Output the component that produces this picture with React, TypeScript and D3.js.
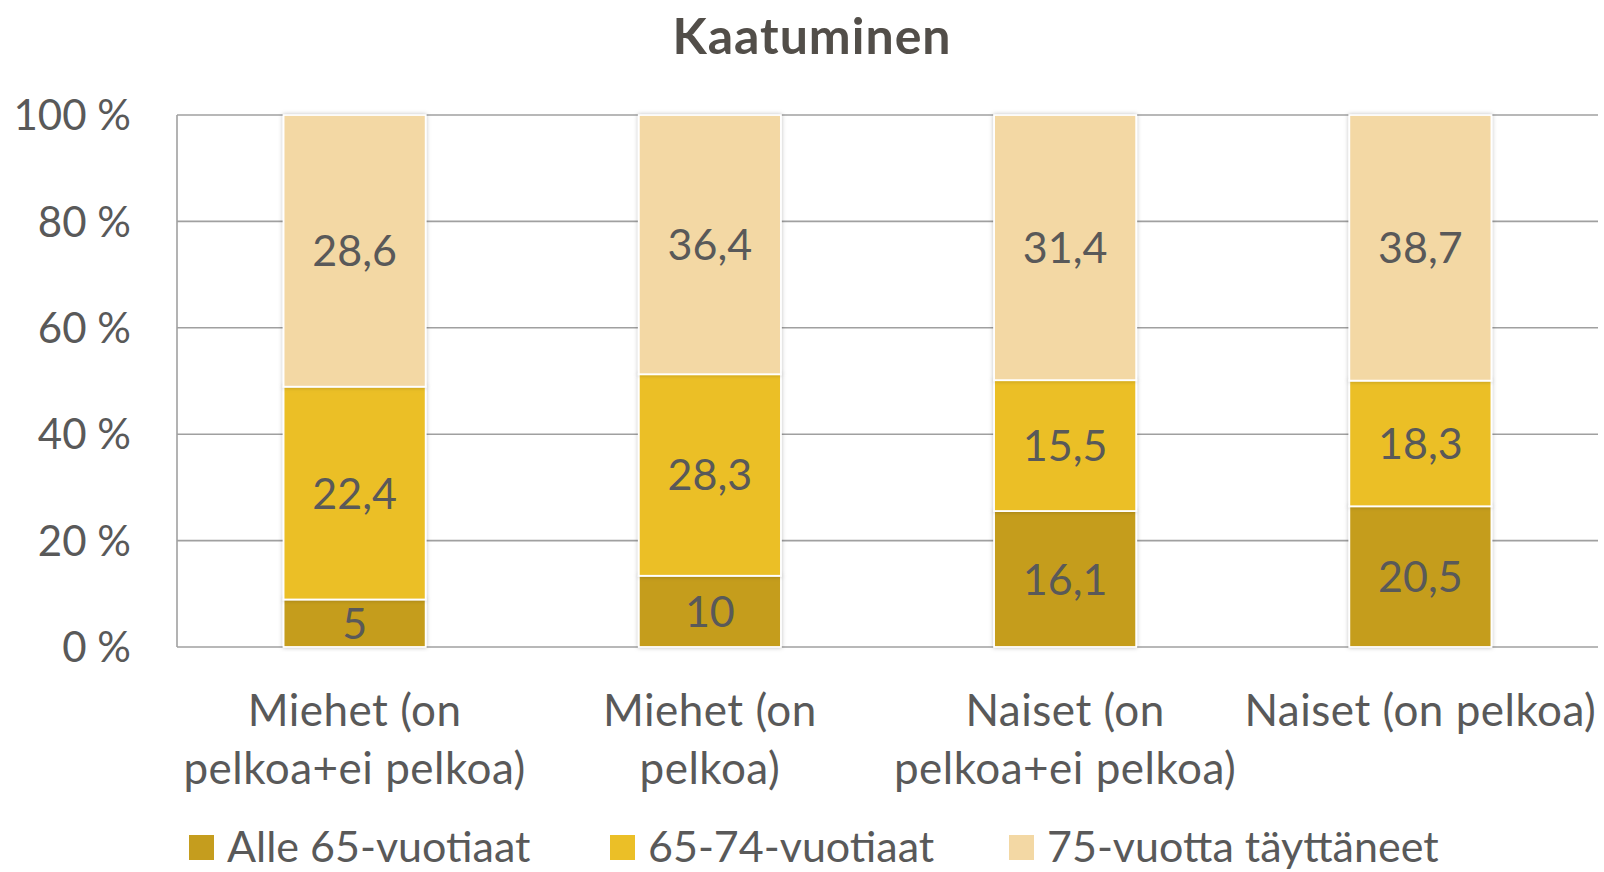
import React, { useEffect, useRef } from 'react';
import * as d3 from 'd3';

// Category labels (already split into lines as in the original)
const categories = ['Miehet (on pelkoa+ei pelkoa)', 'Miehet (on pelkoa)', 'Naiset (on pelkoa+ei pelkoa)', 'Naiset (on pelkoa)'];
const categoryLines = [['Miehet (on', 'pelkoa+ei pelkoa)'], ['Miehet (on', 'pelkoa)'], ['Naiset (on', 'pelkoa+ei pelkoa)'], ['Naiset (on pelkoa)']];
const seriesNames = ['Alle 65-vuotiaat', '65-74-vuotiaat', '75-vuotta täyttäneet'];
const alle65 = [5, 10, 16.1, 20.5];
const v65to74 = [22.4, 28.3, 15.5, 18.3];
const v75plus = [28.6, 36.4, 31.4, 38.7];
const yTicks = [0, 0.2, 0.4, 0.6, 0.8, 1];
const colors = ['#C59D1E', '#EBBF27', '#F3D8A4'];

const App: React.FC = () => {
  const ref = useRef<SVGSVGElement>(null);

  useEffect(() => {
    if (!ref.current) return;
    const svg = d3.select(ref.current);
    svg.selectAll('*').remove();
    const W = 1604, H = 872;
    const margin = { top: 115, right: 6, bottom: 225, left: 177 };
    const width = W - margin.left - margin.right;
    const height = H - margin.top - margin.bottom;
    const font = 'Lato, "Open Sans", sans-serif';
    const textColor = '#595959';

    // shadow for bars
    const defs = svg.append('defs');
    const f = defs.append('filter').attr('id', 'shadow').attr('x', '-10%').attr('y', '-10%').attr('width', '120%').attr('height', '120%');
    f.append('feDropShadow').attr('dx', 0).attr('dy', 0).attr('stdDeviation', 2).attr('flood-color', '#000').attr('flood-opacity', 0.25);

    // Title
    svg.append('text').attr('x', 812).attr('y', 54).attr('text-anchor', 'middle').style('font-family', font).style('font-size', '50px').style('letter-spacing', '1px').style('font-weight', 'bold').style('fill', '#524E49').text('Kaatuminen');

    const g = svg.append('g').attr('transform', `translate(${margin.left},${margin.top})`);
    const x = d3.scaleBand().domain(categories).range([0, width]).paddingInner(0.6).paddingOuter(0.3);
    const y = d3.scaleLinear().domain([0, 1]).range([height, 0]);

    // gridlines
    g.selectAll('.grid').data(yTicks).enter().append('line').attr('x1', 0).attr('x2', width).attr('y1', d => y(d)).attr('y2', d => y(d)).style('stroke', '#A0A0A0').style('stroke-width', 1.6);
    // left axis line
    g.append('line').attr('x1', 0).attr('x2', 0).attr('y1', 0).attr('y2', height).style('stroke', '#A0A0A0').style('stroke-width', 1.6);

    // y tick labels
    g.selectAll('.ytick').data(yTicks).enter().append('text').attr('x', -46).attr('y', d => y(d)).attr('dy', '0.36em').attr('text-anchor', 'end').style('font-family', font).style('font-size', '42px').style('fill', textColor).text(d => `${Math.round(d * 100)} %`);

    // stacked data normalized to 100 %
    const rows = categories.map((c, i) => ({ cat: c, a: alle65[i], b: v65to74[i], c: v75plus[i] }));
    const stack = d3.stack<any>().keys(['a', 'b', 'c']).offset(d3.stackOffsetExpand);
    const series = stack(rows);

    series.forEach((s, si) => {
      const layer = g.append('g');
      layer.selectAll('rect').data(s).enter().append('rect').attr('x', d => x(d.data.cat) || 0).attr('width', x.bandwidth()).attr('y', d => y(d[1])).attr('height', d => y(d[0]) - y(d[1])).attr('fill', colors[si]).attr('stroke', '#FFFFFF').attr('stroke-width', 1.8).attr('filter', 'url(#shadow)');
    });
    series.forEach((s, si) => {
      g.append('g').selectAll('text').data(s).enter().append('text').attr('x', d => (x(d.data.cat) || 0) + x.bandwidth() / 2).attr('y', d => (y(d[0]) + y(d[1])) / 2).attr('dy', '0.36em').attr('text-anchor', 'middle').style('font-family', font).style('font-size', '43px').style('fill', textColor).text(d => String(d.data[s.key]).replace('.', ','));
    });

    // category labels
    categories.forEach((c, i) => {
      const cx = (x(c) || 0) + x.bandwidth() / 2;
      categoryLines[i].forEach((line, li) => {
        g.append('text').attr('x', cx).attr('y', height + 79 + li * 58).attr('text-anchor', 'middle').style('font-family', font).style('font-size', '44px').style('letter-spacing', '0.5px').style('fill', textColor).text(line);
      });
    });

    // legend
    const legendX = [189, 610, 1009];
    seriesNames.forEach((name, i) => {
      const lg = svg.append('g').attr('transform', `translate(${legendX[i]},835)`);
      lg.append('rect').attr('width', 25).attr('height', 25).attr('fill', colors[i]);
      lg.append('text').attr('x', 38).attr('y', 27).style('font-family', font).style('font-size', '43px').style('fill', textColor).text(name);
    });
  }, []);

  return <svg ref={ref} width={1604} height={872} style={{ position: 'absolute', left: 0, top: 0, background: '#fff' }} />;
};

export default App;
